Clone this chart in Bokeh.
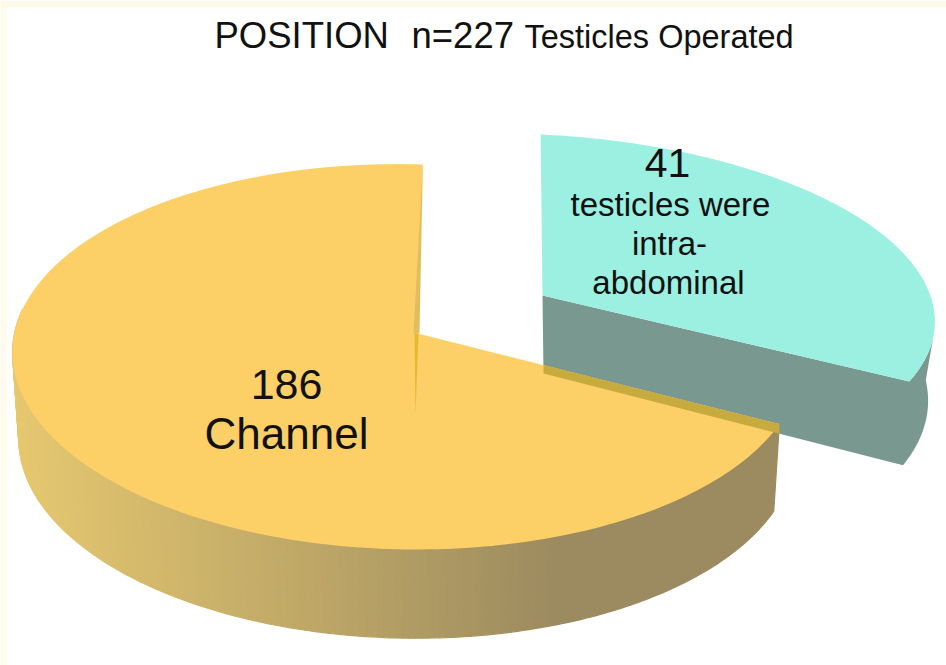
import numpy as np
from bokeh.plotting import figure
from bokeh.models import Range1d
from bokeh.core.properties import value
from bokeh.embed import file_html
from bokeh.resources import INLINE

# --- data ---
slice_names = ["Channel", "intra-abdominal"]
slice_counts = [186, 41]          # printed on the labels
slice_drawn_share = [68, 32]      # share of the disc as it is actually drawn (percent)
title_parts = ["POSITION", "n=227", "Testicles Operated"]
label_channel = ["186", "Channel"]
label_intra = ["41", "testicles were", "intra-", "abdominal"]

# --- styles ---
CREAM = "#FFFBEA"
YEL_TOP = "#FCD066"
BLUE_TOP = "#9BF0E1"
BLUE_SIDE = "#79988F"
BAND = "#C8AB3E"
FONT = "Liberation Sans"
W, H = 946, 665


def disc(theta_deg, ax, ay, R, A, k, m, t, s):
    """Project points of a tilted unit circle to the page."""
    th = np.radians(np.asarray(theta_deg, dtype=float))
    u, d = np.cos(th), -np.sin(th)
    den = 1 - k * d + m * u
    return ax + (R * u - s * d) / den, ay + (A * d + t * u) / den


YT = dict(ax=417, ay=333, R=391, A=189.6, k=0.122, m=0.025, t=8, s=6)
YB = dict(YT, ay=419, R=385, A=192)
BT = dict(ax=542, ay=295, R=403, A=172.6, k=0.072, m=0.03, t=13.5, s=-2)
BB = dict(BT, ax=543, ay=373, R=395, A=186)

blue_sweep = 360 * slice_drawn_share[1] / sum(slice_drawn_share)
yel_sweep = 360 * slice_drawn_share[0] / sum(slice_drawn_share)
cut = 90 - blue_sweep                    # shared edge angle
yel_th = np.linspace(90, 90 + yel_sweep, 240)
blue_th = np.linspace(90, cut, 120)

p = figure(width=W, height=H, x_range=Range1d(0, W), y_range=Range1d(H, 0),
           output_backend="svg", toolbar_location=None, min_border=0,
           background_fill_color="white", border_fill_color="white", outline_line_color=None)
p.axis.visible = False
p.grid.visible = False

# cream frame along the top and left edges
p.quad(left=[0, 0], right=[W, 6], top=[0, 0], bottom=[7, H], fill_color=CREAM, line_color=None)

# blue: side faces
wt = np.linspace(-10, cut, 30)
wb = np.linspace(cut, 2, 30)
xa, ya = disc(wt, **BT)
xb, yb = disc(wb, **BB)
p.patch(list(xa) + [BT["ax"], BB["ax"]] + list(xb),
        list(ya) + [BT["ay"], BB["ay"]] + list(yb),
        fill_color=BLUE_SIDE, line_color=None)
# blue: top
x, y = disc(blue_th, **BT)
p.patch([BT["ax"]] + list(x), [BT["ay"]] + list(y), fill_color=BLUE_TOP, line_color=None)

# yellow: side wall, shaded strip by strip
sth = np.linspace(175, 90 + yel_sweep, 200)
xt, yt = disc(sth, **YT)
xo, yo = disc(sth, **YB)
light = np.array([0xE6, 0xC8, 0x70])
dark = np.array([0x9C, 0x8B, 0x60])
xs, ys, cols = [], [], []
for i in range(len(sth) - 1):
    f = np.clip((xt[i] - 15) / (560 - 15), 0, 1)
    c = (light + (dark - light) * f).astype(int)
    cols.append("#%02X%02X%02X" % tuple(c))
    xs.append([xt[i], xt[i + 1], xo[i + 1], xo[i]])
    ys.append([yt[i], yt[i + 1], yo[i + 1], yo[i]])
p.patches(xs, ys, fill_color=cols, line_color=cols, line_width=1.2)

# yellow: top
x, y = disc(yel_th, **YT)
p.patch([YT["ax"]] + list(x), [YT["ay"]] + list(y), fill_color=YEL_TOP, line_color=None)

# yellow: slim cut face inside the back edge
tx, ty = disc([90], **YT)
p.patch([tx[0], YT["ax"] + 2, YT["ax"] - 4], [ty[0], YT["ay"], YT["ay"]],
        fill_color="#E0BE60", line_color=None)
p.patch([YT["ax"] + 1, YT["ax"] - 3, YT["ax"] - 2], [YT["ay"], YT["ay"], YT["ay"] + 82],
        fill_color="#E6B933", line_color=None)

# band where the blue side shows through the yellow edge
ex, ey = disc([cut], **YT)
bx0, by0 = BB["ax"], BB["ay"]
bx1, by1 = disc([cut], **BB)
frac = (ex[0] - bx0) / (bx1[0] - bx0)
bye = by0 + (by1[0] - by0) * frac
ys0 = YT["ay"] + (ey[0] - YT["ay"]) * (bx0 - YT["ax"]) / (ex[0] - YT["ax"])
p.patch([bx0, ex[0], ex[0], bx0], [ys0, ey[0], bye, by0], fill_color=BAND, line_color=None)


# texts
def txt(x, y, s, size, align="center"):
    p.text(x=[x], y=[y - 0.37 * size], text=[s], text_font=value(FONT), text_font_size=f"{size}px",
           text_color="#111111", text_align=align, text_baseline="alphabetic")


txt(214, 49, title_parts[0], 36.5, "left")
txt(411, 49, title_parts[1], 36.5, "left")
txt(524, 49, title_parts[2], 32.5, "left")
txt(286, 400, label_channel[0], 43)
txt(286, 449, label_channel[1], 44)
txt(667, 178, label_intra[0], 41)
txt(670, 216, label_intra[1], 33)
txt(669, 255, label_intra[2], 33)
txt(668, 294, label_intra[3], 33)

html = file_html(p, INLINE)
html = html.replace("<head>", "<head><style>html,body{margin:0;padding:0;overflow:hidden}</style>", 1)
open("out.html", "w").write(html)
